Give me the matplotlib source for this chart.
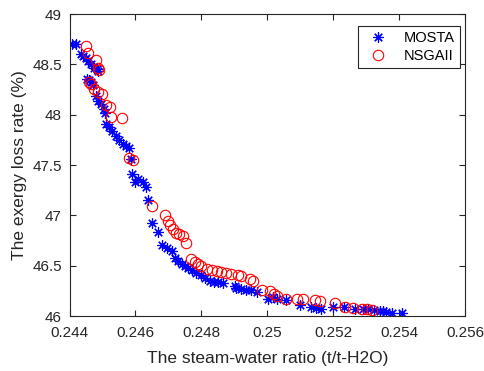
import matplotlib
matplotlib.use('Agg')
import matplotlib.pyplot as plt
from matplotlib.ticker import FuncFormatter

plt.rcParams['font.family'] = ['Liberation Sans', 'DejaVu Sans']

# MOSTA results (steam-water ratio, exergy loss rate)
mosta_x = [0.24409, 0.24419, 0.24435, 0.24442, 0.24449, 0.24457, 0.24465, 0.24475,
           0.24482, 0.24487, 0.24452, 0.24459, 0.24465, 0.24472, 0.24479, 0.24487,
           0.24495, 0.24505, 0.24509, 0.24510, 0.24520, 0.24530, 0.24540, 0.24551,
           0.24561, 0.24571, 0.24581, 0.24586, 0.24589, 0.24598, 0.24608, 0.24622,
           0.24632, 0.24638, 0.24649, 0.24669, 0.24680, 0.24697, 0.24710, 0.24720,
           0.24730, 0.24740, 0.24750, 0.24760, 0.24773, 0.24785, 0.24798, 0.24811,
           0.24826, 0.24838, 0.24851, 0.24866, 0.24901, 0.24906, 0.24921, 0.24936,
           0.24952, 0.24968, 0.25002, 0.25017, 0.25031, 0.25058, 0.25099, 0.25134,
           0.25149, 0.25164, 0.25200, 0.25233, 0.25265, 0.25290, 0.25305, 0.25325,
           0.25341, 0.25351, 0.25361, 0.25378, 0.25408]
mosta_y = [48.70, 48.70, 48.60, 48.58, 48.56, 48.53, 48.50, 48.46,
           48.45, 48.43, 48.35, 48.34, 48.32, 48.29, 48.19, 48.14,
           48.11, 48.06, 48.02, 47.91, 47.88, 47.84, 47.79, 47.75,
           47.71, 47.69, 47.67, 47.56, 47.41, 47.33, 47.36, 47.33,
           47.28, 47.15, 46.92, 46.83, 46.71, 46.68, 46.65, 46.58,
           46.55, 46.52, 46.50, 46.48, 46.46, 46.43, 46.41, 46.38,
           46.35, 46.34, 46.34, 46.33, 46.30, 46.28, 46.27, 46.26,
           46.26, 46.24, 46.17, 46.19, 46.17, 46.16, 46.11, 46.09,
           46.08, 46.07, 46.09, 46.09, 46.07, 46.07, 46.07, 46.06,
           46.05, 46.05, 46.04, 46.03, 46.03]

# NSGAII results
nsga_x = [0.24449, 0.24457, 0.24479, 0.24485, 0.24489, 0.24459, 0.24465, 0.24475,
          0.24487, 0.24499, 0.24512, 0.24522, 0.24527, 0.24560, 0.24581, 0.24592,
          0.24649, 0.24690, 0.24700, 0.24705, 0.24713, 0.24723, 0.24733, 0.24743,
          0.24753, 0.24770, 0.24780, 0.24790, 0.24800, 0.24816, 0.24831, 0.24846,
          0.24861, 0.24876, 0.24891, 0.24911, 0.24919, 0.24947, 0.24957, 0.24983,
          0.25008, 0.25020, 0.25031, 0.25058, 0.25089, 0.25109, 0.25144, 0.25159,
          0.25207, 0.25235, 0.25260, 0.25287, 0.25303, 0.25317]
nsga_y = [48.68, 48.61, 48.54, 48.46, 48.44, 48.32, 48.30, 48.26,
          48.23, 48.21, 48.10, 48.08, 47.98, 47.97, 47.57, 47.55,
          47.09, 47.00, 46.94, 46.90, 46.86, 46.82, 46.81, 46.79,
          46.73, 46.57, 46.54, 46.52, 46.50, 46.47, 46.46, 46.45,
          46.44, 46.43, 46.42, 46.41, 46.40, 46.37, 46.35, 46.26,
          46.25, 46.22, 46.20, 46.17, 46.17, 46.17, 46.16, 46.15,
          46.13, 46.09, 46.08, 46.07, 46.07, 46.06]

xticks = [0.244, 0.246, 0.248, 0.25, 0.252, 0.254, 0.256]
yticks = [46, 46.5, 47, 47.5, 48, 48.5, 49]

dark = '#262626'

fig = plt.figure(figsize=(4.85, 3.71), dpi=100)
ax = fig.add_axes([0.1433, 0.1482, 0.8155, 0.814])

ax.plot(mosta_x, mosta_y, linestyle='none', marker=(8, 2, 0), markersize=7.5,
        color='#0000ff', markeredgewidth=0.85, label='MOSTA')
ax.plot(nsga_x, nsga_y, linestyle='none', marker='o', markersize=7.5,
        markerfacecolor='none', markeredgecolor='#ff0000', markeredgewidth=0.8,
        label='NSGAII')

ax.set_xlim(0.244, 0.256)
ax.set_ylim(46, 49)
ax.set_xticks(xticks)
ax.set_yticks(yticks)
fmt = FuncFormatter(lambda v, p: '%g' % v)
ax.xaxis.set_major_formatter(fmt)
ax.yaxis.set_major_formatter(fmt)
ax.tick_params(direction='in', top=True, right=True, length=4, width=0.8,
               labelsize=11, colors=dark)
ax.tick_params(axis='x', pad=7)
ax.tick_params(axis='y', pad=5.5)
for s in ax.spines.values():
    s.set_color(dark)
    s.set_linewidth(0.8)

ax.set_xlabel('The steam-water ratio (t/t-H2O)', fontsize=12.5, color=dark, labelpad=8)
ax.set_ylabel('The exergy loss rate (%)', fontsize=12.5, color=dark, labelpad=4)

leg = ax.legend(loc='upper right', fontsize=10.5, fancybox=False, framealpha=1,
                edgecolor=dark, borderpad=0.35, labelspacing=0.25,
                handletextpad=0.8, handlelength=2.0, borderaxespad=0,
                bbox_to_anchor=(0.987, 0.96))
leg.get_frame().set_linewidth(0.8)

fig.savefig('out.png', dpi=100)
